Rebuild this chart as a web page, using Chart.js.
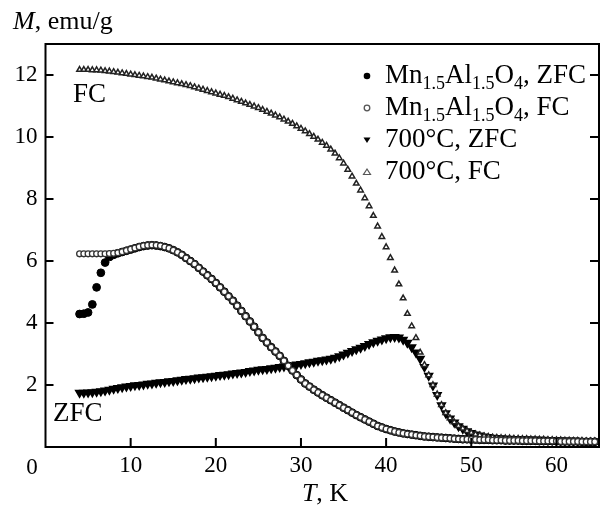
<!DOCTYPE html>
<html><head><meta charset="utf-8">
<script src="https://cdn.jsdelivr.net/npm/chart.js@4.4.0/dist/chart.umd.min.js"></script>
<style>
html,body{margin:0;padding:0;background:#fff;}
#wrap{position:relative;width:605px;height:512px;overflow:hidden;}
canvas{position:absolute;left:0;top:0;}
.t{position:absolute;font-family:"Liberation Serif","Times New Roman",serif;color:#000;white-space:nowrap;line-height:1;}
.leg{font-size:27px;left:385px;}
.leg sub{font-size:18px;vertical-align:baseline;position:relative;top:6px;}
.mk{position:absolute;}
</style></head>
<body><div id="wrap"><canvas id="c" width="605" height="512"></canvas>
<div class="t" style="left:13px;top:8px;font-size:26px;"><i>M</i>, emu/g</div>
<div class="t" style="left:325px;top:480px;font-size:26px;transform:translateX(-50%);"><i>T</i>, K</div>
<div class="t" style="left:32px;top:455px;font-size:23px;transform:translateX(-50%);">0</div>
<div class="t" style="left:73px;top:80px;font-size:27px;">FC</div>
<div class="t" style="left:53px;top:399px;font-size:27px;">ZFC</div>
<div class="t leg" style="top:61px;">Mn<sub>1.5</sub>Al<sub>1.5</sub>O<sub>4</sub>, ZFC</div>
<div class="t leg" style="top:93px;">Mn<sub>1.5</sub>Al<sub>1.5</sub>O<sub>4</sub>, FC</div>
<div class="t leg" style="top:125px;">700°C, ZFC</div>
<div class="t leg" style="top:157px;">700°C, FC</div>
<svg class="mk" style="left:359px;top:68px" width="16" height="16"><circle cx="8" cy="8" r="3.3" fill="#000"/></svg>
<svg class="mk" style="left:359px;top:100px" width="16" height="16"><circle cx="8" cy="8" r="2.8" fill="#fff" stroke="#555" stroke-width="1.3"/></svg>
<svg class="mk" style="left:359px;top:132px" width="16" height="16"><polygon points="4.5,5.5 11.5,5.5 8,11" fill="#000"/></svg>
<svg class="mk" style="left:359px;top:164px" width="16" height="16"><polygon points="4.5,10.5 11.5,10.5 8,5" fill="#fff" stroke="#555" stroke-width="1.2"/></svg>
</div>
<script>
const T = [
 4,4.5,5,5.5,6,6.5,7,7.5,8,8.5,
 9,9.5,10,10.5,11,11.5,12,12.5,13,13.5,
 14,14.5,15,15.5,16,16.5,17,17.5,18,18.5,
 19,19.5,20,20.5,21,21.5,22,22.5,23,23.5,
 24,24.5,25,25.5,26,26.5,27,27.5,28,28.5,
 29,29.5,30,30.5,31,31.5,32,32.5,33,33.5,
 34,34.5,35,35.5,36,36.5,37,37.5,38,38.5,
 39,39.5,40,40.5,41,41.5,42,42.5,43,43.5,
 44,44.5,45,45.5,46,46.5,47,47.5,48,48.5,
 49,49.5,50,50.5,51,51.5,52,52.5,53,53.5,
 54,54.5,55,55.5,56,56.5,57,57.5,58,58.5,
 59,59.5,60,60.5,61,61.5,62,62.5,63,63.5,
 64,64.5];
const mnZFC = [
 4.29,4.30,4.34,4.60,5.15,5.62,5.95,6.13,6.20,6.25,
 6.29,6.33,6.37,6.41,6.45,6.48,6.50,6.51,6.50,6.48,
 6.45,6.41,6.35,6.28,6.20,6.10,6.00,5.90,5.78,5.66,
 5.54,5.42,5.29,5.15,5.01,4.86,4.72,4.56,4.39,4.22,
 4.05,3.88,3.70,3.52,3.37,3.22,3.08,2.94,2.78,2.62,
 2.47,2.32,2.18,2.05,1.95,1.85,1.76,1.67,1.59,1.51,
 1.43,1.35,1.27,1.19,1.11,1.03,0.96,0.89,0.82,0.75,
 0.68,0.63,0.58,0.54,0.50,0.47,0.44,0.42,0.40,0.38,
 0.36,0.34,0.33,0.32,0.31,0.30,0.29,0.28,0.27,0.26,
 0.25,0.25,0.24,0.24,0.23,0.23,0.23,0.22,0.22,0.22,
 0.21,0.21,0.21,0.21,0.20,0.20,0.20,0.20,0.19,0.19,
 0.19,0.19,0.19,0.18,0.18,0.18,0.18,0.18,0.17,0.17,
 0.17,0.17];
const mnFC = [
 6.23,6.23,6.23,6.23,6.23,6.23,6.23,6.24,6.25,6.27,
 6.30,6.34,6.38,6.42,6.46,6.49,6.51,6.52,6.51,6.49,
 6.45,6.41,6.35,6.28,6.20,6.10,6.00,5.90,5.78,5.66,
 5.54,5.42,5.29,5.15,5.01,4.86,4.72,4.56,4.39,4.22,
 4.05,3.88,3.70,3.52,3.37,3.22,3.08,2.94,2.78,2.62,
 2.47,2.32,2.18,2.05,1.95,1.85,1.76,1.67,1.59,1.51,
 1.43,1.35,1.27,1.19,1.11,1.03,0.96,0.89,0.82,0.75,
 0.68,0.63,0.58,0.54,0.50,0.47,0.44,0.42,0.40,0.38,
 0.36,0.34,0.33,0.32,0.31,0.30,0.29,0.28,0.27,0.26,
 0.25,0.25,0.24,0.24,0.23,0.23,0.23,0.22,0.22,0.22,
 0.21,0.21,0.21,0.21,0.20,0.20,0.20,0.20,0.19,0.19,
 0.19,0.19,0.19,0.18,0.18,0.18,0.18,0.18,0.17,0.17,
 0.17,0.17];
const c700ZFC = [
 1.75,1.75,1.76,1.77,1.78,1.80,1.82,1.85,1.88,1.90,
 1.93,1.95,1.97,1.99,2.00,2.02,2.04,2.05,2.07,2.09,
 2.10,2.12,2.13,2.15,2.17,2.19,2.20,2.22,2.24,2.25,
 2.27,2.28,2.30,2.32,2.33,2.35,2.37,2.39,2.40,2.42,
 2.45,2.47,2.49,2.51,2.52,2.54,2.56,2.58,2.60,2.62,
 2.64,2.66,2.68,2.70,2.73,2.75,2.78,2.80,2.82,2.85,
 2.88,2.93,2.98,3.04,3.10,3.15,3.20,3.26,3.32,3.38,
 3.43,3.47,3.51,3.54,3.55,3.53,3.46,3.36,3.22,3.05,
 2.85,2.58,2.30,1.98,1.68,1.35,1.09,0.92,0.79,0.67,
 0.59,0.51,0.45,0.40,0.37,0.34,0.32,0.30,0.29,0.28,
 0.27,0.27,0.26,0.26,0.25,0.25,0.24,0.24,0.23,0.23,
 0.22,0.22,0.21,0.21,0.20,0.20,0.19,0.19,0.19,0.18,
 0.18,0.18];
const c700FC = [
 12.17,12.17,12.17,12.16,12.16,12.15,12.13,12.12,12.10,12.08,
 12.06,12.04,12.02,12.00,11.98,11.96,11.94,11.92,11.89,11.86,
 11.83,11.80,11.77,11.74,11.71,11.68,11.65,11.61,11.57,11.53,
 11.49,11.45,11.41,11.37,11.33,11.29,11.24,11.19,11.14,11.09,
 11.04,10.99,10.94,10.88,10.82,10.76,10.70,10.64,10.57,10.50,
 10.43,10.35,10.27,10.19,10.10,10.01,9.92,9.82,9.72,9.60,
 9.47,9.32,9.15,8.95,8.73,8.50,8.28,8.03,7.77,7.46,
 7.12,6.78,6.45,6.10,5.70,5.25,4.80,4.30,3.90,3.52,
 3.05,2.65,2.32,2.00,1.70,1.36,1.10,0.93,0.80,0.68,
 0.60,0.52,0.46,0.41,0.38,0.35,0.33,0.31,0.30,0.29,
 0.28,0.28,0.27,0.27,0.26,0.26,0.25,0.25,0.24,0.24,
 0.23,0.23,0.22,0.22,0.21,0.21,0.20,0.20,0.20,0.19,
 0.19,0.19];
const xTicks = [0,10,20,30,40,50,60];
const yTicks = [0,2,4,6,8,10,12];

const pts = ys => T.map((t,i)=>({x:t,y:ys[i]}));
const FONT = {family:'"Liberation Serif","Times New Roman",serif', size:23};

const frame = {
  id:'frame',
  afterDatasetsDraw(chart){
    const {ctx, chartArea:a, scales:{x,y}} = chart;
    ctx.save();
    ctx.strokeStyle='#000'; ctx.lineWidth=2;
    ctx.strokeRect(a.left,a.top,a.right-a.left,a.bottom-a.top);
    ctx.beginPath();
    x.ticks.forEach(t=>{ if(t.value<=0) return; const px=x.getPixelForValue(t.value); ctx.moveTo(px,a.bottom); ctx.lineTo(px,a.bottom-9); });
    y.ticks.forEach(t=>{ if(t.value<=0) return; const py=y.getPixelForValue(t.value);
      ctx.moveTo(a.left,py); ctx.lineTo(a.left+8,py);
      ctx.moveTo(a.right,py); ctx.lineTo(a.right-9,py); });
    ctx.stroke();
    ctx.restore();
  }
};

new Chart(document.getElementById('c'), {
  type:'scatter',
  data:{datasets:[
    {label:'Mn1.5Al1.5O4, ZFC', data:pts(mnZFC), pointStyle:'circle', pointRadius:3.9,
     pointBackgroundColor:'#000', pointBorderColor:'#000', pointBorderWidth:1, order:3},
    {label:'Mn1.5Al1.5O4, FC', data:pts(mnFC), pointStyle:'circle', pointRadius:2.9,
     pointBackgroundColor:'#fff', pointBorderColor:'#333', pointBorderWidth:1.3, order:1},
    {label:'700°C, ZFC', data:pts(c700ZFC), pointStyle:'triangle', pointRotation:180, pointRadius:4.4,
     pointBackgroundColor:'#000', pointBorderColor:'#000', pointBorderWidth:1.6, order:4},
    {label:'700°C, FC', data:pts(c700FC), pointStyle:'triangle', pointRadius:3.2,
     pointBackgroundColor:'#fff', pointBorderColor:'#222', pointBorderWidth:1.5, order:2}
  ]},
  options:{
    animation:false, responsive:false, events:[],
    layout:{padding:{top:44,right:1,left:0,bottom:0}},
    plugins:{legend:{display:false}, tooltip:{enabled:false}},
    scales:{
      x:{type:'linear', min:0, max:65,
         afterFit:s=>{s.height=65;},
         afterBuildTicks:s=>{s.ticks=xTicks.map(v=>({value:v}));},
         grid:{display:false, drawTicks:false}, border:{display:false},
         ticks:{padding:5, color:'#000', font:FONT, maxRotation:0, callback:v=>v===0?'':String(v)}},
      y:{type:'linear', min:0, max:13,
         afterFit:s=>{s.width=45.5;},
         afterBuildTicks:s=>{s.ticks=yTicks.map(v=>({value:v}));},
         grid:{display:false, drawTicks:false}, border:{display:false},
         ticks:{padding:8, color:'#000', font:FONT, callback:v=>v===0?'':String(v)}}
    }
  },
  plugins:[frame]
});
</script>
</body></html>
